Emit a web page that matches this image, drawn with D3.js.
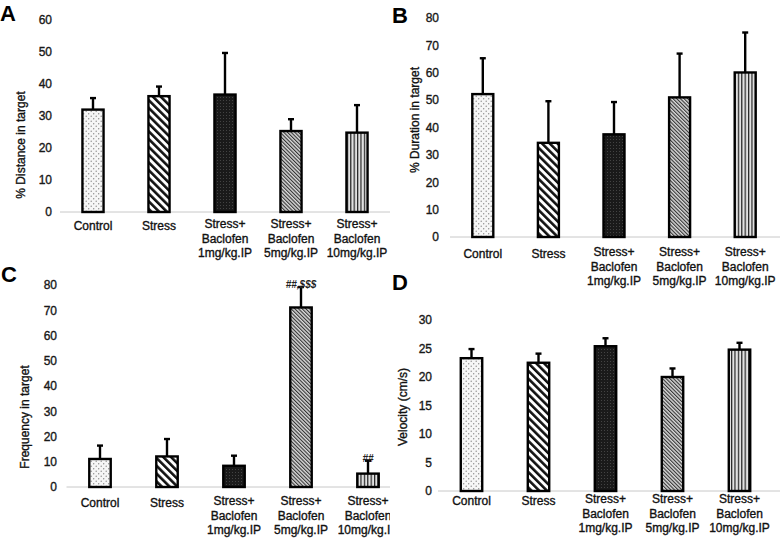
<!DOCTYPE html>
<html>
<head>
<meta charset="utf-8">
<script src="https://cdn.jsdelivr.net/npm/d3@7/dist/d3.min.js"></script>
<style>
  html, body { margin: 0; padding: 0; background: #fff; }
  svg { display: block; font-family: "Liberation Sans", Arial, sans-serif; }
  .heavy { stroke: #111; stroke-width: 0.35px; }
</style>
</head>
<body>
<svg id="chart" width="780" height="540"></svg>
<script>
// ---------- data ----------
const categories = [
  ["Control"],
  ["Stress"],
  ["Stress+", "Baclofen", "1mg/kg.IP"],
  ["Stress+", "Baclofen", "5mg/kg.IP"],
  ["Stress+", "Baclofen", "10mg/kg.IP"]
];
const patternIds = ["pDots", "pWide", "pDark", "pFine", "pVert"];

const distanceMean = [32.0, 36.2, 36.7, 25.3, 24.8];
const distanceErr  = [3.6, 3.0, 13.0, 3.7, 8.6];
const distanceTicks = [0, 10, 20, 30, 40, 50, 60];

const durationMean = [52.2, 34.4, 37.5, 51.0, 60.1];
const durationErr  = [13.1, 15.2, 11.8, 16.0, 14.6];
const durationTicks = [0, 10, 20, 30, 40, 50, 60, 70, 80];

const frequencyMean = [11.1, 12.1, 8.4, 71.1, 5.3];
const frequencyErr  = [5.3, 6.9, 4.0, 8.1, 5.1];
const frequencyMarks = ["", "", "", "##,$$$", "##"];
const frequencyTicks = [0, 10, 20, 30, 40, 50, 60, 70, 80];

const velocityMean = [23.3, 22.5, 25.4, 20.0, 24.8];
const velocityErr  = [1.6, 1.6, 1.4, 1.5, 1.2];
const velocityTicks = [0, 5, 10, 15, 20, 25, 30];

// ---------- setup ----------
const svg = d3.select("#chart");
const defs = svg.append("defs");

// dotted (control)
{
  const p = defs.append("pattern").attr("id", "pDots").attr("patternUnits", "userSpaceOnUse")
    .attr("width", 5).attr("height", 5);
  p.append("rect").attr("width", 5).attr("height", 5).attr("fill", "#f6f6f6");
  p.append("circle").attr("cx", 1.2).attr("cy", 1.2).attr("r", 0.7).attr("fill", "#8a8a8a");
  p.append("circle").attr("cx", 3.7).attr("cy", 3.7).attr("r", 0.7).attr("fill", "#8a8a8a");
}
// wide diagonal stripes (stress)
{
  const p = defs.append("pattern").attr("id", "pWide").attr("patternUnits", "userSpaceOnUse")
    .attr("width", 5.5).attr("height", 5.5).attr("patternTransform", "rotate(-45)");
  p.append("rect").attr("width", 5.5).attr("height", 5.5).attr("fill", "#fff");
  p.append("rect").attr("x", 0).attr("width", 2.6).attr("height", 5.5).attr("fill", "#111");
}
// dark dotted (1mg)
{
  const p = defs.append("pattern").attr("id", "pDark").attr("patternUnits", "userSpaceOnUse")
    .attr("width", 3).attr("height", 3);
  p.append("rect").attr("width", 3).attr("height", 3).attr("fill", "#1a1a1a");
  p.append("rect").attr("x", 1).attr("y", 1).attr("width", 0.8).attr("height", 0.8).attr("fill", "#5a5a5a");
}
// fine diagonal (5mg)
{
  const p = defs.append("pattern").attr("id", "pFine").attr("patternUnits", "userSpaceOnUse")
    .attr("width", 2.6).attr("height", 2.6).attr("patternTransform", "rotate(-45)");
  p.append("rect").attr("width", 2.6).attr("height", 2.6).attr("fill", "#d8d8d8");
  p.append("rect").attr("width", 1.1).attr("height", 2.6).attr("fill", "#333");
}
// vertical stripes (10mg)
{
  const p = defs.append("pattern").attr("id", "pVert").attr("patternUnits", "userSpaceOnUse")
    .attr("width", 3.4).attr("height", 4);
  p.append("rect").attr("width", 3.4).attr("height", 4).attr("fill", "#e2e2e2");
  p.append("rect").attr("width", 1.2).attr("height", 4).attr("fill", "#222");
}

defs.append("clipPath").attr("id", "clipLeft")
  .append("rect").attr("x", 0).attr("y", 0).attr("width", 390).attr("height", 540);

function drawPanel(cfg) {
  const g = svg.append("g");
  if (cfg.clip) g.attr("clip-path", "url(#" + cfg.clip + ")");

  const x = d3.scaleBand().domain(d3.range(categories.length)).range(cfg.xRange).padding(0);
  const y = d3.scaleLinear().domain([cfg.ticks[0], cfg.ticks[cfg.ticks.length - 1]]).range(cfg.yRange);
  const bw = x.bandwidth() * 0.32;

  // y axis tick labels (no axis line)
  const yAxis = d3.axisLeft(y).tickValues(cfg.ticks).tickSize(0).tickPadding(0);
  const ya = g.append("g").attr("transform", `translate(${cfg.tickRight},0)`).call(yAxis);
  ya.select(".domain").remove();
  ya.selectAll("text").attr("font-size", 12).attr("fill", "#222").attr("class", "heavy")
    .attr("font-family", "'Liberation Sans', Arial, sans-serif");

  // baseline
  g.append("line")
    .attr("x1", cfg.xRange[0]).attr("x2", cfg.axisEnd)
    .attr("y1", y(0)).attr("y2", y(0))
    .attr("stroke", "#c8c8c8").attr("stroke-width", 1);

  // bars
  g.selectAll("rect.bar").data(cfg.mean).join("rect").attr("class", "bar")
    .attr("x", (d, i) => x(i) + x.bandwidth() / 2 - bw / 2)
    .attr("width", bw)
    .attr("y", d => y(d))
    .attr("height", d => y(0) - y(d))
    .attr("fill", (d, i) => `url(#${patternIds[i]})`)
    .attr("stroke", "#000").attr("stroke-width", 2.4);

  // error bars
  const eb = g.selectAll("g.err").data(cfg.mean).join("g").attr("class", "err");
  eb.append("line")
    .attr("x1", (d, i) => x(i) + x.bandwidth() / 2)
    .attr("x2", (d, i) => x(i) + x.bandwidth() / 2)
    .attr("y1", d => y(d))
    .attr("y2", (d, i) => y(d + cfg.err[i]))
    .attr("stroke", "#000").attr("stroke-width", 2.4);
  eb.append("line")
    .attr("x1", (d, i) => x(i) + x.bandwidth() / 2 - 3)
    .attr("x2", (d, i) => x(i) + x.bandwidth() / 2 + 3)
    .attr("y1", (d, i) => y(d + cfg.err[i]))
    .attr("y2", (d, i) => y(d + cfg.err[i]))
    .attr("stroke", "#000").attr("stroke-width", 2.4);

  // significance marks
  if (cfg.marks) {
    g.selectAll("text.mark").data(cfg.marks).join("text").attr("class", "mark")
      .attr("x", (d, i) => x(i) + x.bandwidth() / 2)
      .attr("y", (d, i) => y(cfg.mean[i] + cfg.err[i]) + 1)
      .attr("text-anchor", "middle")
      .attr("font-size", 10).attr("font-weight", "bold").attr("font-style", "italic")
      .attr("fill", "#222")
      .text(d => d);
  }

  // category labels
  const lab = g.selectAll("text.cat").data(categories).join("text").attr("class", "cat heavy")
    .attr("text-anchor", "middle").attr("font-size", 12).attr("fill", "#111")
    .attr("transform", (d, i) => `translate(${x(i) + x.bandwidth() / 2},${cfg.labelY + (d.length === 1 ? 2 : 0)})`);
  lab.selectAll("tspan").data(d => d).join("tspan")
    .attr("x", 0).attr("y", (d, j) => j * 14.3).attr("dy", "0.35em").text(d => d);

  // y title
  g.append("text").attr("class", "heavy")
    .attr("transform", `translate(${cfg.titleX},${cfg.titleY}) rotate(-90)`)
    .attr("text-anchor", "middle").attr("dy", "0.35em")
    .attr("font-size", 12).attr("fill", "#111")
    .text(cfg.title);

  // panel letter
  svg.append("text").attr("x", cfg.letterX).attr("y", cfg.letterY)
    .attr("font-size", 22).attr("font-weight", "bold").attr("fill", "#000")
    .attr("font-family", "'Liberation Sans', Arial, sans-serif")
    .text(cfg.letter);
}

drawPanel({
  letter: "A", letterX: 0, letterY: 21,
  mean: distanceMean, err: distanceErr, ticks: distanceTicks,
  xRange: [60, 390], axisEnd: 390, yRange: [212, 20], tickRight: 52,
  labelY: 224, title: "% Distance in target", titleX: 21, titleY: 145
});
drawPanel({
  letter: "B", letterX: 392, letterY: 23,
  mean: durationMean, err: durationErr, ticks: durationTicks,
  xRange: [450, 778], axisEnd: 780, yRange: [237, 18], tickRight: 439,
  labelY: 252, title: "% Duration in target", titleX: 415, titleY: 120
});
drawPanel({
  letter: "C", letterX: 1, letterY: 282, clip: "clipLeft",
  mean: frequencyMean, err: frequencyErr, ticks: frequencyTicks, marks: frequencyMarks,
  xRange: [66.5, 401.5], axisEnd: 390, yRange: [487, 285], tickRight: 57,
  labelY: 501, title: "Frequency in target", titleX: 25, titleY: 417
});
drawPanel({
  letter: "D", letterX: 392, letterY: 290,
  mean: velocityMean, err: velocityErr, ticks: velocityTicks,
  xRange: [438, 773], axisEnd: 780, yRange: [491, 320], tickRight: 432,
  labelY: 499, title: "Velocity (cm/s)", titleX: 403, titleY: 407
});
</script>
</body>
</html>
